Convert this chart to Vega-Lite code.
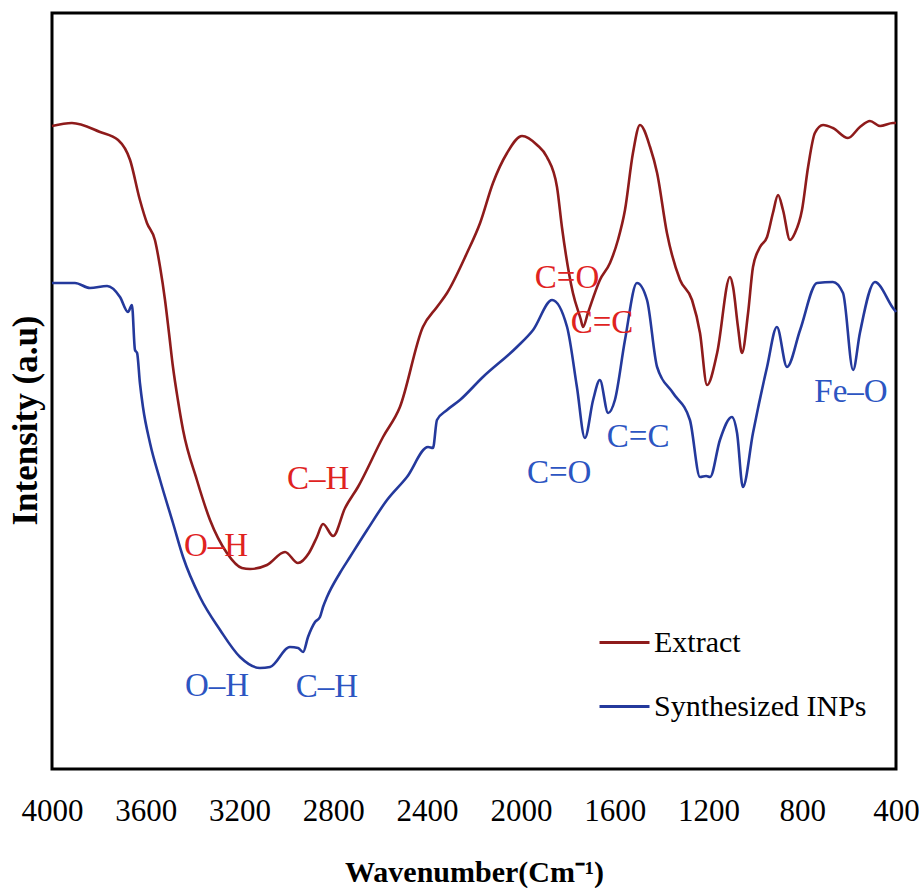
{
  "$schema": "https://vega.github.io/schema/vega-lite/v6.json",
  "width": 844,
  "height": 756,
  "autosize": {"type": "none"},
  "padding": {"left": 52, "top": 13, "right": 23, "bottom": 119},
  "background": "white",
  "config": {
    "view": {"stroke": "black", "strokeWidth": 3},
    "font": "Liberation Serif, Tinos, Times New Roman, Noto Serif, DejaVu Serif, serif"
  },
  "datasets": {
    "spectra": [
      {"series": "Extract", "wavenumber": 4000, "intensity": 643},
      {"series": "Extract", "wavenumber": 3915, "intensity": 646},
      {"series": "Extract", "wavenumber": 3795, "intensity": 637},
      {"series": "Extract", "wavenumber": 3718, "intensity": 629},
      {"series": "Extract", "wavenumber": 3667, "intensity": 609},
      {"series": "Extract", "wavenumber": 3625, "intensity": 569},
      {"series": "Extract", "wavenumber": 3595, "intensity": 546},
      {"series": "Extract", "wavenumber": 3561, "intensity": 529},
      {"series": "Extract", "wavenumber": 3539, "intensity": 502},
      {"series": "Extract", "wavenumber": 3518, "intensity": 469},
      {"series": "Extract", "wavenumber": 3501, "intensity": 436},
      {"series": "Extract", "wavenumber": 3484, "intensity": 402},
      {"series": "Extract", "wavenumber": 3463, "intensity": 369},
      {"series": "Extract", "wavenumber": 3441, "intensity": 339},
      {"series": "Extract", "wavenumber": 3382, "intensity": 289},
      {"series": "Extract", "wavenumber": 3326, "intensity": 249},
      {"series": "Extract", "wavenumber": 3254, "intensity": 216},
      {"series": "Extract", "wavenumber": 3190, "intensity": 201},
      {"series": "Extract", "wavenumber": 3155, "intensity": 200},
      {"series": "Extract", "wavenumber": 3083, "intensity": 204},
      {"series": "Extract", "wavenumber": 3006, "intensity": 217},
      {"series": "Extract", "wavenumber": 2951, "intensity": 206},
      {"series": "Extract", "wavenumber": 2904, "intensity": 216},
      {"series": "Extract", "wavenumber": 2870, "intensity": 232},
      {"series": "Extract", "wavenumber": 2844, "intensity": 245},
      {"series": "Extract", "wavenumber": 2801, "intensity": 233},
      {"series": "Extract", "wavenumber": 2750, "intensity": 261},
      {"series": "Extract", "wavenumber": 2695, "intensity": 282},
      {"series": "Extract", "wavenumber": 2588, "intensity": 332},
      {"series": "Extract", "wavenumber": 2516, "intensity": 362},
      {"series": "Extract", "wavenumber": 2418, "intensity": 442},
      {"series": "Extract", "wavenumber": 2358, "intensity": 462},
      {"series": "Extract", "wavenumber": 2315, "intensity": 476},
      {"series": "Extract", "wavenumber": 2230, "intensity": 516},
      {"series": "Extract", "wavenumber": 2174, "intensity": 546},
      {"series": "Extract", "wavenumber": 2119, "intensity": 586},
      {"series": "Extract", "wavenumber": 2059, "intensity": 616},
      {"series": "Extract", "wavenumber": 1995, "intensity": 633},
      {"series": "Extract", "wavenumber": 1931, "intensity": 624},
      {"series": "Extract", "wavenumber": 1889, "intensity": 612},
      {"series": "Extract", "wavenumber": 1846, "intensity": 582},
      {"series": "Extract", "wavenumber": 1825, "intensity": 542},
      {"series": "Extract", "wavenumber": 1778, "intensity": 476},
      {"series": "Extract", "wavenumber": 1745, "intensity": 450},
      {"series": "Extract", "wavenumber": 1735, "intensity": 442},
      {"series": "Extract", "wavenumber": 1714, "intensity": 456},
      {"series": "Extract", "wavenumber": 1663, "intensity": 489},
      {"series": "Extract", "wavenumber": 1620, "intensity": 506},
      {"series": "Extract", "wavenumber": 1586, "intensity": 529},
      {"series": "Extract", "wavenumber": 1556, "intensity": 559},
      {"series": "Extract", "wavenumber": 1522, "intensity": 616},
      {"series": "Extract", "wavenumber": 1492, "intensity": 644},
      {"series": "Extract", "wavenumber": 1449, "intensity": 622},
      {"series": "Extract", "wavenumber": 1419, "intensity": 596},
      {"series": "Extract", "wavenumber": 1377, "intensity": 536},
      {"series": "Extract", "wavenumber": 1321, "intensity": 489},
      {"series": "Extract", "wavenumber": 1270, "intensity": 469},
      {"series": "Extract", "wavenumber": 1236, "intensity": 436},
      {"series": "Extract", "wavenumber": 1206, "intensity": 384},
      {"series": "Extract", "wavenumber": 1163, "intensity": 416},
      {"series": "Extract", "wavenumber": 1108, "intensity": 492},
      {"series": "Extract", "wavenumber": 1095, "intensity": 482},
      {"series": "Extract", "wavenumber": 1074, "intensity": 442},
      {"series": "Extract", "wavenumber": 1057, "intensity": 416},
      {"series": "Extract", "wavenumber": 1031, "intensity": 456},
      {"series": "Extract", "wavenumber": 1010, "intensity": 502},
      {"series": "Extract", "wavenumber": 980, "intensity": 522},
      {"series": "Extract", "wavenumber": 950, "intensity": 532},
      {"series": "Extract", "wavenumber": 925, "intensity": 556},
      {"series": "Extract", "wavenumber": 903, "intensity": 574},
      {"series": "Extract", "wavenumber": 882, "intensity": 559},
      {"series": "Extract", "wavenumber": 852, "intensity": 529},
      {"series": "Extract", "wavenumber": 831, "intensity": 536},
      {"series": "Extract", "wavenumber": 801, "intensity": 559},
      {"series": "Extract", "wavenumber": 775, "intensity": 602},
      {"series": "Extract", "wavenumber": 746, "intensity": 636},
      {"series": "Extract", "wavenumber": 711, "intensity": 644},
      {"series": "Extract", "wavenumber": 669, "intensity": 641},
      {"series": "Extract", "wavenumber": 605, "intensity": 631},
      {"series": "Extract", "wavenumber": 554, "intensity": 642},
      {"series": "Extract", "wavenumber": 511, "intensity": 648},
      {"series": "Extract", "wavenumber": 468, "intensity": 643},
      {"series": "Extract", "wavenumber": 413, "intensity": 646},
      {"series": "Extract", "wavenumber": 400, "intensity": 646},
      {"series": "Synthesized INPs", "wavenumber": 4000, "intensity": 486},
      {"series": "Synthesized INPs", "wavenumber": 3902, "intensity": 486},
      {"series": "Synthesized INPs", "wavenumber": 3838, "intensity": 481},
      {"series": "Synthesized INPs", "wavenumber": 3765, "intensity": 483},
      {"series": "Synthesized INPs", "wavenumber": 3710, "intensity": 472},
      {"series": "Synthesized INPs", "wavenumber": 3676, "intensity": 457},
      {"series": "Synthesized INPs", "wavenumber": 3659, "intensity": 464},
      {"series": "Synthesized INPs", "wavenumber": 3646, "intensity": 419},
      {"series": "Synthesized INPs", "wavenumber": 3637, "intensity": 416},
      {"series": "Synthesized INPs", "wavenumber": 3625, "intensity": 386},
      {"series": "Synthesized INPs", "wavenumber": 3612, "intensity": 362},
      {"series": "Synthesized INPs", "wavenumber": 3582, "intensity": 326},
      {"series": "Synthesized INPs", "wavenumber": 3539, "intensity": 289},
      {"series": "Synthesized INPs", "wavenumber": 3484, "intensity": 246},
      {"series": "Synthesized INPs", "wavenumber": 3441, "intensity": 212},
      {"series": "Synthesized INPs", "wavenumber": 3369, "intensity": 172},
      {"series": "Synthesized INPs", "wavenumber": 3283, "intensity": 139},
      {"series": "Synthesized INPs", "wavenumber": 3198, "intensity": 112},
      {"series": "Synthesized INPs", "wavenumber": 3113, "intensity": 101},
      {"series": "Synthesized INPs", "wavenumber": 3070, "intensity": 102},
      {"series": "Synthesized INPs", "wavenumber": 2985, "intensity": 122},
      {"series": "Synthesized INPs", "wavenumber": 2950, "intensity": 121},
      {"series": "Synthesized INPs", "wavenumber": 2929, "intensity": 117},
      {"series": "Synthesized INPs", "wavenumber": 2908, "intensity": 132},
      {"series": "Synthesized INPs", "wavenumber": 2878, "intensity": 147},
      {"series": "Synthesized INPs", "wavenumber": 2857, "intensity": 152},
      {"series": "Synthesized INPs", "wavenumber": 2844, "intensity": 162},
      {"series": "Synthesized INPs", "wavenumber": 2827, "intensity": 172},
      {"series": "Synthesized INPs", "wavenumber": 2772, "intensity": 196},
      {"series": "Synthesized INPs", "wavenumber": 2729, "intensity": 212},
      {"series": "Synthesized INPs", "wavenumber": 2656, "intensity": 239},
      {"series": "Synthesized INPs", "wavenumber": 2571, "intensity": 269},
      {"series": "Synthesized INPs", "wavenumber": 2486, "intensity": 292},
      {"series": "Synthesized INPs", "wavenumber": 2396, "intensity": 322},
      {"series": "Synthesized INPs", "wavenumber": 2375, "intensity": 321},
      {"series": "Synthesized INPs", "wavenumber": 2358, "intensity": 349},
      {"series": "Synthesized INPs", "wavenumber": 2315, "intensity": 359},
      {"series": "Synthesized INPs", "wavenumber": 2260, "intensity": 369},
      {"series": "Synthesized INPs", "wavenumber": 2162, "intensity": 392},
      {"series": "Synthesized INPs", "wavenumber": 2017, "intensity": 422},
      {"series": "Synthesized INPs", "wavenumber": 1948, "intensity": 439},
      {"series": "Synthesized INPs", "wavenumber": 1867, "intensity": 469},
      {"series": "Synthesized INPs", "wavenumber": 1803, "intensity": 442},
      {"series": "Synthesized INPs", "wavenumber": 1761, "intensity": 382},
      {"series": "Synthesized INPs", "wavenumber": 1727, "intensity": 331},
      {"series": "Synthesized INPs", "wavenumber": 1692, "intensity": 369},
      {"series": "Synthesized INPs", "wavenumber": 1663, "intensity": 389},
      {"series": "Synthesized INPs", "wavenumber": 1628, "intensity": 356},
      {"series": "Synthesized INPs", "wavenumber": 1599, "intensity": 369},
      {"series": "Synthesized INPs", "wavenumber": 1556, "intensity": 429},
      {"series": "Synthesized INPs", "wavenumber": 1505, "intensity": 486},
      {"series": "Synthesized INPs", "wavenumber": 1462, "intensity": 469},
      {"series": "Synthesized INPs", "wavenumber": 1419, "intensity": 402},
      {"series": "Synthesized INPs", "wavenumber": 1351, "intensity": 376},
      {"series": "Synthesized INPs", "wavenumber": 1279, "intensity": 349},
      {"series": "Synthesized INPs", "wavenumber": 1236, "intensity": 292},
      {"series": "Synthesized INPs", "wavenumber": 1210, "intensity": 293},
      {"series": "Synthesized INPs", "wavenumber": 1193, "intensity": 292},
      {"series": "Synthesized INPs", "wavenumber": 1151, "intensity": 329},
      {"series": "Synthesized INPs", "wavenumber": 1100, "intensity": 352},
      {"series": "Synthesized INPs", "wavenumber": 1078, "intensity": 336},
      {"series": "Synthesized INPs", "wavenumber": 1053, "intensity": 282},
      {"series": "Synthesized INPs", "wavenumber": 1010, "intensity": 336},
      {"series": "Synthesized INPs", "wavenumber": 950, "intensity": 402},
      {"series": "Synthesized INPs", "wavenumber": 908, "intensity": 442},
      {"series": "Synthesized INPs", "wavenumber": 865, "intensity": 402},
      {"series": "Synthesized INPs", "wavenumber": 809, "intensity": 439},
      {"series": "Synthesized INPs", "wavenumber": 737, "intensity": 486},
      {"series": "Synthesized INPs", "wavenumber": 669, "intensity": 487},
      {"series": "Synthesized INPs", "wavenumber": 626, "intensity": 476},
      {"series": "Synthesized INPs", "wavenumber": 583, "intensity": 399},
      {"series": "Synthesized INPs", "wavenumber": 554, "intensity": 436},
      {"series": "Synthesized INPs", "wavenumber": 490, "intensity": 487},
      {"series": "Synthesized INPs", "wavenumber": 413, "intensity": 461},
      {"series": "Synthesized INPs", "wavenumber": 400, "intensity": 457}
    ],
    "labels": [
      {"series": "Extract", "label": "C=O", "wavenumber": 1803, "intensity": 491},
      {"series": "Extract", "label": "C=C", "wavenumber": 1654, "intensity": 446},
      {"series": "Extract", "label": "O–H", "wavenumber": 3300, "intensity": 223},
      {"series": "Extract", "label": "C–H", "wavenumber": 2865, "intensity": 290},
      {"series": "Synthesized INPs", "label": "C=O", "wavenumber": 1837, "intensity": 296},
      {"series": "Synthesized INPs", "label": "C=C", "wavenumber": 1500, "intensity": 332},
      {"series": "Synthesized INPs", "label": "Fe–O", "wavenumber": 592, "intensity": 377},
      {"series": "Synthesized INPs", "label": "O–H", "wavenumber": 3296, "intensity": 83},
      {"series": "Synthesized INPs", "label": "C–H", "wavenumber": 2827, "intensity": 82}
    ]
  },
  "layer": [
    {
      "data": {"name": "spectra"},
      "mark": {"type": "line", "strokeWidth": 2.6, "interpolate": "monotone"},
      "encoding": {
        "x": {
          "field": "wavenumber",
          "type": "quantitative",
          "scale": {"domain": [400, 4000], "reverse": true, "nice": false, "zero": false},
          "axis": {
            "values": [4000, 3600, 3200, 2800, 2400, 2000, 1600, 1200, 800, 400],
            "format": "d",
            "ticks": false,
            "tickSize": 0,
            "domain": false,
            "grid": false,
            "labelFont": "Liberation Serif, Tinos, Times New Roman, Noto Serif, DejaVu Serif, serif",
            "labelFontSize": 31,
            "labelColor": "black",
            "labelPadding": 27,
            "labelFlush": false,
            "labelOverlap": false,
            "title": "Wavenumber(Cm⁻¹)",
            "titleFont": "Liberation Serif, Tinos, Times New Roman, serif",
            "titleFontSize": 30,
            "titleFontWeight": "bold",
            "titleColor": "black",
            "titleBaseline": "middle",
            "titleY": 103
          }
        },
        "y": {
          "field": "intensity",
          "type": "quantitative",
          "scale": {"domain": [0, 756], "nice": false, "zero": false},
          "axis": {
            "labels": false,
            "ticks": false,
            "domain": false,
            "grid": false,
            "title": "Intensity (a.u)",
            "titleFont": "Liberation Serif, Tinos, Times New Roman, serif",
            "titleFontSize": 35,
            "titleFontWeight": "bold",
            "titleColor": "black",
            "titleX": -27,
            "titleY": 407,
            "titleAngle": 270,
            "titleBaseline": "middle",
            "titleAlign": "center"
          }
        },
        "color": {
          "field": "series",
          "type": "nominal",
          "scale": {"domain": ["Extract", "Synthesized INPs"], "range": ["#8E1B1B", "#24399C"]},
          "legend": {
            "orient": "none",
            "legendX": 546,
            "legendY": 603,
            "title": null,
            "symbolType": "stroke",
            "symbolSize": 2500,
            "symbolStrokeWidth": 3,
            "labelFont": "Liberation Serif, Tinos, Times New Roman, Noto Serif, DejaVu Serif, serif",
            "labelFontSize": 30,
            "labelColor": "black",
            "labelOffset": 3,
            "labelLimit": 400,
            "rowPadding": 22
          }
        },
        "order": {"field": "wavenumber", "sort": "descending"}
      }
    },
    {
      "data": {"name": "labels"},
      "transform": [{"filter": "datum.series === 'Extract'"}],
      "mark": {"type": "text", "font": "Liberation Serif, Tinos, Times New Roman, Noto Serif, DejaVu Serif, serif", "fontSize": 33, "color": "#E0231F", "align": "center", "baseline": "middle"},
      "encoding": {
        "x": {"field": "wavenumber", "type": "quantitative"},
        "y": {"field": "intensity", "type": "quantitative"},
        "text": {"field": "label"}
      }
    },
    {
      "data": {"name": "labels"},
      "transform": [{"filter": "datum.series === 'Synthesized INPs'"}],
      "mark": {"type": "text", "font": "Liberation Serif, Tinos, Times New Roman, Noto Serif, DejaVu Serif, serif", "fontSize": 33, "color": "#2C55C2", "align": "center", "baseline": "middle"},
      "encoding": {
        "x": {"field": "wavenumber", "type": "quantitative"},
        "y": {"field": "intensity", "type": "quantitative"},
        "text": {"field": "label"}
      }
    }
  ]
}
